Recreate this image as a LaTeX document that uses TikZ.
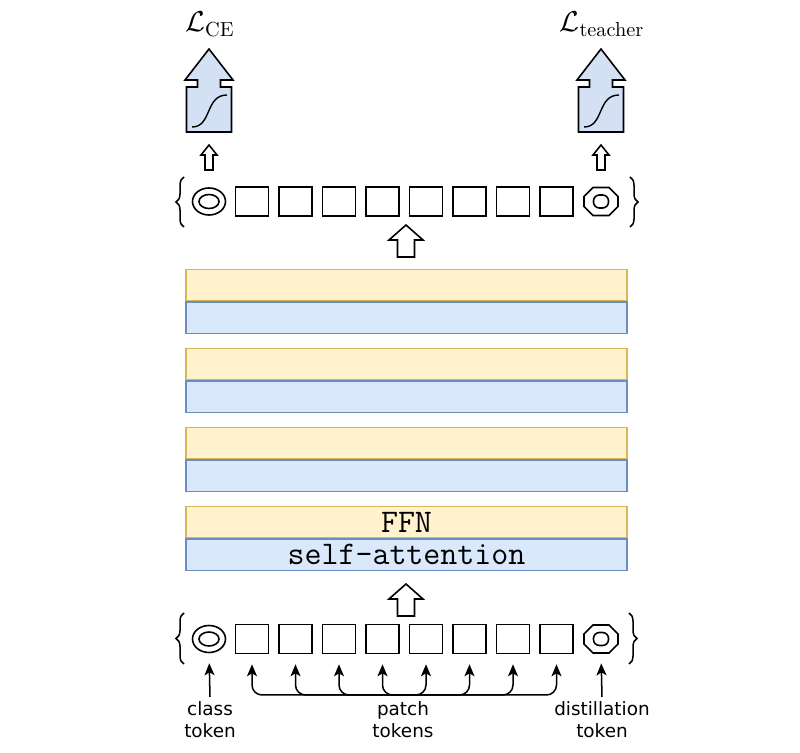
\documentclass[tikz,border=0pt]{standalone}
\usepackage{amsmath}
\usepackage{fontspec}
\newfontfamily\labelfont{DejaVu Sans}
\usetikzlibrary{shapes.geometric,arrows.meta,decorations.pathreplacing,calc}
\definecolor{ffnfill}{HTML}{FFF2CC}
\definecolor{ffnline}{HTML}{D6B656}
\definecolor{attfill}{HTML}{DAE8FC}
\definecolor{attline}{HTML}{6C8EBF}
\definecolor{lossfill}{HTML}{D4E1F5}
% hollow block arrows, #1 = tip
\newcommand{\fatarrow}[1]{\draw[line width=0.8pt, fill=white] #1 -- ++(17,15) -- ++(-8.5,0) -- ++(0,17) -- ++(-17,0) -- ++(0,-17) -- ++(-8.5,0) -- cycle;}
\newcommand{\thinarrow}[1]{\draw[line width=0.8pt, fill=white] #1 -- ++(8,10) -- ++(-4,0) -- ++(0,15) -- ++(-8,0) -- ++(0,-15) -- ++(-4,0) -- cycle;}
\newcommand{\lossbox}[1]{%
  \draw[line width=0.8pt, fill=lossfill] #1 -- ++(24,31) -- ++(-12.5,0) -- ++(0,7) -- ++(11,0) -- ++(0,45) -- ++(-45,0) -- ++(0,-45) -- ++(11,0) -- ++(0,-7) -- ++(-12.5,0) -- cycle;
  \draw[line width=0.7pt] ($#1+(-17,78)$) .. controls +(20,0) and +(-22,0) .. ($#1+(18,46)$);}
% octagon drawn round a node, #1 = node name
\newcommand{\octagon}[1]{%
  \draw[line width=0.8pt] ($(#1)+(-17,-5)$) -- ($(#1)+(-8,-14)$) -- ($(#1)+(8,-14)$) -- ($(#1)+(17,-5)$) -- ($(#1)+(17,5)$) -- ($(#1)+(8,14)$) -- ($(#1)+(-8,14)$) -- ($(#1)+(-17,5)$) -- cycle;
  \draw[line width=0.8pt, rounded corners=3pt] ($(#1)+(-7.5,-6.5)$) rectangle ($(#1)+(7.5,6.5)$);}

\begin{document}
\begin{tikzpicture}[x=0.5pt, y=-0.5pt, >={Stealth[length=6pt,width=5pt,inset=1.5pt]},
    token/.style={draw, line width=0.8pt, minimum width=16.5pt, minimum height=14.5pt, inner sep=0},
    clstok/.style={draw, ellipse, line width=0.8pt, minimum width=16.5pt, minimum height=13.5pt, inner sep=0},
    dsttok/.style={minimum width=17pt, minimum height=14pt, inner sep=0},
    ffn/.style={draw=ffnline, fill=ffnfill, line width=0.7pt, minimum width=220.5pt, minimum height=15.75pt, inner sep=0},
    att/.style={draw=attline, fill=attfill, line width=0.7pt, minimum width=220.5pt, minimum height=15.75pt, inner sep=0, anchor=north},
    lbl/.style={font=\labelfont\fontsize{9.2}{11}\selectfont, align=center, anchor=north, inner sep=0},
    brace/.style={decorate, decoration={brace, amplitude=4pt}, line width=0.75pt}]
    \useasboundingbox (0,0) rectangle (800,753);

    % input and output token rows
    \node[clstok](cls) at (209,639) {}; \draw[line width=0.8pt] (cls.center) ellipse [x radius=5pt, y radius=3.5pt];
    \node[clstok](ocls) at (209,201.5) {}; \draw[line width=0.8pt] (ocls.center) ellipse [x radius=5pt, y radius=3.5pt];
    \foreach \i in {1,...,8} {
        \node[token](p\i) at ({208.5+43.5*\i},639) {};
        \node[token](o\i) at ({208.5+43.5*\i},201.5) {};
    }
    \node[dsttok](dst) at (601,639) {}; \octagon{dst}
    \node[dsttok](odst) at (601,201.5) {}; \octagon{odst}

    \draw[brace] (184,664) -- (184,613); \draw[brace] (629,613) -- (629,664);
    \draw[brace] (184,227) -- (184,177); \draw[brace] (630,177) -- (630,227);

    % transformer blocks
    \node[ffn](ffn1) at (406.5,285) {}; \node[att](att1) at (ffn1.south) {};
    \node[ffn](ffn2) at (406.5,364) {}; \node[att](att2) at (ffn2.south) {};
    \node[ffn](ffn3) at (406.5,443) {}; \node[att](att3) at (ffn3.south) {};
    \node[ffn](ffn4) at (406.5,522) {\ttfamily\fontsize{16.5}{16.5}\selectfont FFN};
    \node[att](att4) at (ffn4.south) {\ttfamily\fontsize{16.5}{16.5}\selectfont self-attention};

    \fatarrow{(406,584)}
    \fatarrow{(406,225)}

    % losses
    \thinarrow{(209,145)} \thinarrow{(601,145)}
    \lossbox{(209,49)} \lossbox{(601,49)}
    \node[anchor=base](lce) at (210,32) {\fontsize{14.5}{16}\selectfont$\mathcal{L}_{\text{CE}}$};
    \node[anchor=base](lteach) at (602,32) {\fontsize{14.5}{16}\selectfont$\mathcal{L}_{\text{teacher}}$};

    % token labels
    \node[lbl](lcls) at (210,701) {class\\token};
    \node[lbl](lpatch) at (403,701) {patch\\tokens};
    \node[lbl](ldst) at (602,701) {distillation\\token};
    \draw[->, line width=0.75pt, shorten >=5pt] ([yshift=2pt]lcls.north) -- (cls.south);
    \draw[->, line width=0.75pt, shorten >=5pt] ([yshift=2pt]ldst.north) -- (dst.south);
    \foreach \i in {1,...,8}
        \draw[->, line width=0.75pt, rounded corners=5pt, shorten >=5pt] ([yshift=3pt]lpatch.north) -| (p\i.south);
\end{tikzpicture}
\end{document}
